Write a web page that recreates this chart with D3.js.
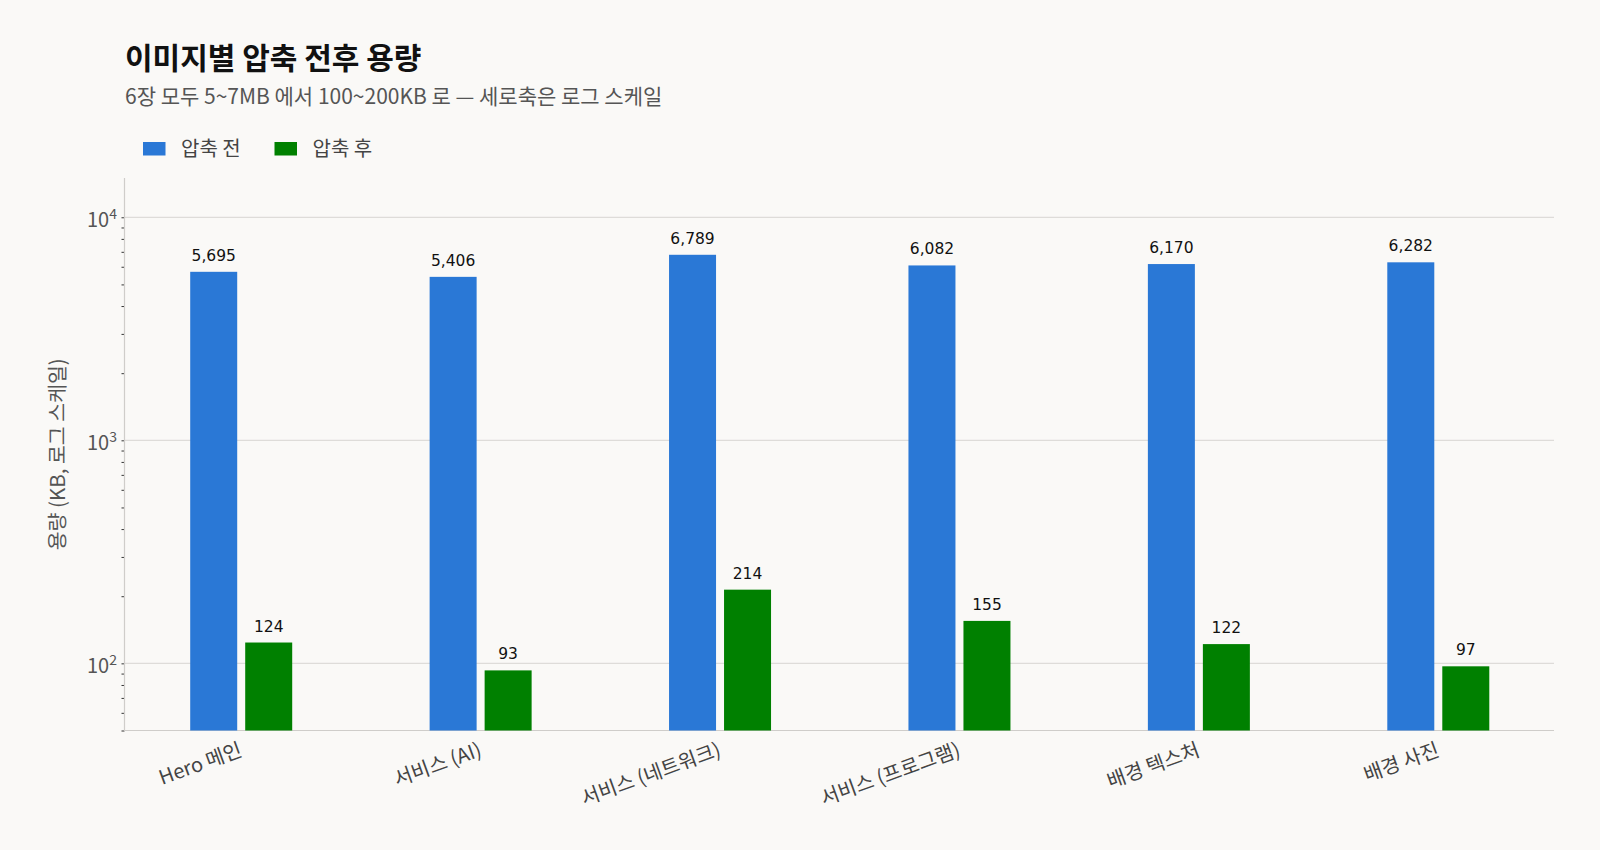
<!DOCTYPE html>
<html>
<head>
<meta charset="utf-8">
<script src="https://cdn.jsdelivr.net/npm/d3@7/dist/d3.min.js"></script>
<style>
  html, body { margin: 0; padding: 0; background: #faf9f7; }
  svg { display: block; }
</style>
</head>
<body>
<svg id="chart" width="1600" height="850"></svg>
<script>
const categories = ["Hero 메인", "서비스 (AI)", "서비스 (네트워크)", "서비스 (프로그램)", "배경 텍스처", "배경 사진"];
const seriesNames = ["압축 전", "압축 후"];
const beforeKB = [5695, 5406, 6789, 6082, 6170, 6282];
const afterKB = [124, 93, 214, 155, 122, 97];
const majorTicks = [100, 1000, 10000];
const majorTickExp = ["2", "3", "4"];
const colors = ["#2a78d6", "#008000"];

const FONT = "'Noto Sans CJK KR', 'Noto Sans', sans-serif";
const svg = d3.select("#chart");
svg.append("rect").attr("width", 1600).attr("height", 850).attr("fill", "#faf9f7");

const plotLeft = 124.5, plotRight = 1554, plotTop = 178, plotBottom = 730.5;

const x = d3.scaleBand().domain(categories).range([121.5, 1558]).paddingInner(0).paddingOuter(0);
const y = d3.scaleLog().domain([50, 15000]).range([plotBottom, plotTop]);

// gridlines
svg.append("g").selectAll("line").data(majorTicks).join("line")
  .attr("x1", plotLeft).attr("x2", plotRight)
  .attr("y1", d => y(d)).attr("y2", d => y(d))
  .attr("stroke", "#dedcd9").attr("stroke-width", 1.2);

// y axis with minor ticks
const allTicks = y.ticks();
const yAxis = d3.axisLeft(y).tickValues(allTicks).tickSize(3).tickFormat("");
const gy = svg.append("g").attr("transform", `translate(${plotLeft},0)`).call(yAxis);
gy.select(".domain").remove();
gy.selectAll(".tick line").attr("stroke", "#333").attr("stroke-width", 1);
svg.append("line").attr("x1", plotLeft).attr("x2", plotLeft).attr("y1", plotTop).attr("y2", plotBottom)
  .attr("stroke", "#cfcdca").attr("stroke-width", 1.2);
svg.append("line").attr("x1", plotLeft).attr("x2", plotRight).attr("y1", plotBottom).attr("y2", plotBottom)
  .attr("stroke", "#cfcdca").attr("stroke-width", 1.2);

// major tick labels 10^k
const lab = svg.append("g").selectAll("text").data(majorTicks).join("text")
  .attr("x", 117).attr("y", d => y(d) + 9.5)
  .attr("text-anchor", "end")
  .attr("font-family", FONT).attr("font-size", 20).attr("fill", "#555");
lab.append("tspan").text("10");
lab.append("tspan").attr("font-size", 14).attr("dy", -8).text((d, i) => majorTickExp[i]);

// y axis title
svg.append("text")
  .attr("transform", `translate(59,${(plotTop + plotBottom) / 2}) rotate(-90)`)
  .attr("text-anchor", "middle").attr("dominant-baseline", "middle")
  .attr("font-family", FONT).attr("font-size", 20.5).attr("fill", "#555")
  .text("용량 (KB, 로그 스케일)");

// bars
const barW = 47, gap = 8;
const groups = svg.append("g").selectAll("g").data(categories).join("g")
  .attr("transform", d => `translate(${x(d) + x.bandwidth() / 2},0)`);

[beforeKB, afterKB].forEach((vals, si) => {
  const off = si === 0 ? -gap / 2 - barW : gap / 2;
  groups.append("rect")
    .attr("x", off).attr("width", barW)
    .attr("y", (d, i) => y(vals[i]))
    .attr("height", (d, i) => plotBottom - y(vals[i]))
    .attr("fill", colors[si]);
  groups.append("text")
    .attr("x", off + barW / 2)
    .attr("y", (d, i) => y(vals[i]) - 11)
    .attr("text-anchor", "middle")
    .attr("font-family", "'DejaVu Sans', sans-serif").attr("font-size", 15.5).attr("fill", "#111")
    .text((d, i) => d3.format(",")(vals[i]));
});

// x labels
svg.append("g").selectAll("text").data(categories).join("text")
  .attr("transform", d => `translate(${x(d) + x.bandwidth() / 2 - 4},${plotBottom + 8}) rotate(-20)`)
  .attr("text-anchor", "end").attr("dy", "0.9em")
  .attr("font-family", FONT).attr("font-size", 20).attr("fill", "#444")
  .text(d => d);

// title + subtitle
svg.append("text").attr("x", 125).attr("y", 69)
  .attr("font-family", FONT).attr("font-size", 30).attr("font-weight", 700).attr("fill", "#111")
  .text("이미지별 압축 전후 용량");
svg.append("text").attr("x", 125).attr("y", 104)
  .attr("font-family", FONT).attr("font-size", 21).attr("fill", "#555")
  .text("6장 모두 5~7MB 에서 100~200KB 로 — 세로축은 로그 스케일");

// legend
const legX = [143, 274.5];
const leg = svg.append("g").selectAll("g").data(seriesNames).join("g")
  .attr("transform", (d, i) => `translate(${legX[i]},142)`);
leg.append("rect").attr("width", 22.5).attr("height", 13.5).attr("fill", (d, i) => colors[i]);
leg.append("text").attr("x", 38).attr("y", 5).attr("dominant-baseline", "central")
  .attr("font-family", FONT).attr("font-size", 20).attr("fill", "#444")
  .text(d => d);
</script>
</body>
</html>
